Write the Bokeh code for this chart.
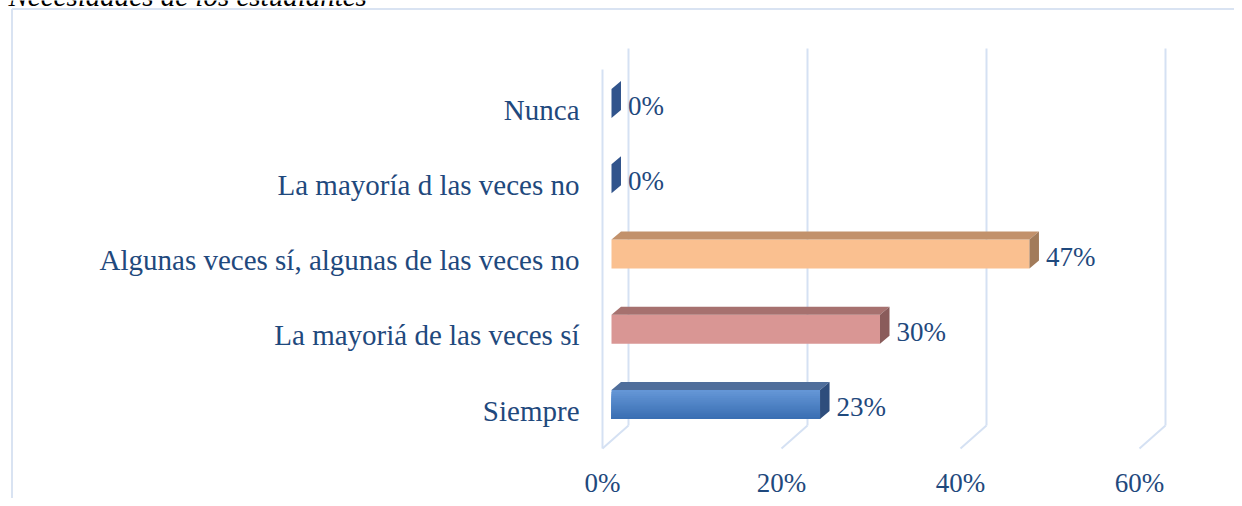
from bokeh.plotting import figure
from bokeh.models import Range1d
from bokeh.core.properties import value
from bokeh.embed import file_html
from bokeh.resources import INLINE

# ---------------- data ----------------
title = "Necesidades de los estudiantes"
categories = ["Siempre",
              "La mayoriá de las veces sí",
              "Algunas veces sí, algunas de las veces no",
              "La mayoría d las veces no",
              "Nunca"]
percentages = [23.3, 30.0, 46.7, 0.0, 0.0]
value_labels = ["23%", "30%", "47%", "0%", "0%"]
x_ticks = [0, 20, 40, 60]
x_tick_labels = ["0%", "20%", "40%", "60%"]

front_colors = ["#4a80c4", "#d99694", "#fac090", "#34599a", "#34599a"]
top_colors = ["#4f6e9b", "#a6716f", "#c2916b", "#2f5289", "#2f5289"]
side_colors = ["#2e4d7c", "#8a5c5b", "#a27b5a", "#31548c", "#31548c"]
blue_grad = ("#6496d6", "#3a6fb3")

TEXT = "#1f497d"
GRID = "#d5e1f3"
FONT = value("Liberation Serif")

# ---------------- layout helpers ----------------
W, H = 1234, 498
PX_X = 8.95     # pixels per percent
PX_Y = 75.25    # pixels per category step
X0 = 602        # x pixel of 0% on the front floor edge
Y0 = 404        # y pixel of first category centre


def X(px):
    return (px - X0) / PX_X


def Y(py):
    return (Y0 - py) / PX_Y


DEPTH_X = 26 / PX_X      # back wall shift
FACE_DX = 9 / PX_X       # bar front face shift from front plane
DDX = 9.5 / PX_X         # bar depth
DDY = 8 / PX_Y
HALF = 14.5 / PX_Y

p = figure(width=W, height=H,
           x_range=Range1d(X(0), X(W)),
           y_range=Range1d(Y(H), Y(0)),
           output_backend="svg", toolbar_location=None,
           x_axis_location=None, y_axis_location=None,
           min_border=0)
p.grid.visible = False
p.outline_line_color = None
p.background_fill_color = "white"
p.border_fill_color = "white"

# caption cut at the top edge (as in the source image)
p.text(x=[X(8)], y=[Y(-4.5)], text=[title], text_align="left",
       text_baseline="middle", text_font=FONT, text_font_style="italic",
       text_font_size="29px", text_color="#000000")

# chart border (top and left visible)
p.segment(x0=[X(11.5), X(11.5)], y0=[Y(8.5), Y(8.5)],
          x1=[X(W), X(11.5)], y1=[Y(8.5), Y(H)],
          line_color="#d9e3f2", line_width=2)

# gridlines: back wall verticals + floor diagonals
bx = [t + DEPTH_X for t in x_ticks]
p.segment(x0=bx, y0=[Y(48)] * len(bx), x1=bx, y1=[Y(425)] * len(bx),
          line_color=GRID, line_width=2)
p.segment(x0=bx, y0=[Y(425)] * len(bx), x1=x_ticks, y1=[Y(448)] * len(bx),
          line_color=GRID, line_width=2)
# left wall front edge
p.segment(x0=[0], y0=[Y(69)], x1=[0], y1=[Y(448)], line_color=GRID, line_width=2)

# ---------------- bars ----------------
n = len(categories)
idx = list(range(n))
lefts = [FACE_DX] * n
rights = [FACE_DX + v for v in percentages]
bottoms = [i - HALF for i in idx]
tops = [i + HALF for i in idx]


def mix(c1, c2, t):
    a = [int(c1[k:k + 2], 16) for k in (1, 3, 5)]
    b = [int(c2[k:k + 2], 16) for k in (1, 3, 5)]
    return "#%02x%02x%02x" % tuple(round(a[j] + (b[j] - a[j]) * t) for j in range(3))


# front faces (blue one with a vertical gradient, strips overlap downwards)
for i in idx:
    if percentages[i] <= 0:
        continue
    if i == 0:
        steps = 14
        h = (tops[i] - bottoms[i]) / steps
        p.quad(left=[lefts[i]] * steps, right=[rights[i]] * steps,
               top=[tops[i] - k * h for k in range(steps)],
               bottom=[bottoms[i]] * steps,
               fill_color=[mix(blue_grad[0], blue_grad[1], k / (steps - 1)) for k in range(steps)],
               line_color=None)
    else:
        p.quad(left=[lefts[i]], right=[rights[i]], top=[tops[i]], bottom=[bottoms[i]],
               fill_color=front_colors[i], line_color=None)

# top faces
p.patches(xs=[[lefts[i], rights[i], rights[i] + DDX, lefts[i] + DDX] for i in idx],
          ys=[[tops[i], tops[i], tops[i] + DDY, tops[i] + DDY] for i in idx],
          fill_color=top_colors, line_color=None)
# side faces
p.patches(xs=[[rights[i], rights[i], rights[i] + DDX, rights[i] + DDX] for i in idx],
          ys=[[bottoms[i], tops[i], tops[i] + DDY, bottoms[i] + DDY] for i in idx],
          fill_color=side_colors, line_color=None)

# ---------------- texts ----------------
p.text(x=[X(579)] * n, y=idx, text=categories, y_offset=6,
       text_align="right", text_baseline="middle",
       text_font=FONT, text_font_size="29px", text_color=TEXT)

p.text(x=rights, y=idx, text=value_labels, x_offset=16.5, y_offset=2.5,
       text_align="left", text_baseline="middle",
       text_font=FONT, text_font_size="27px", text_color=TEXT)

p.text(x=x_ticks, y=[Y(482)] * len(x_ticks), text=x_tick_labels,
       text_align="center", text_baseline="middle",
       text_font=FONT, text_font_size="27px", text_color=TEXT)

open("out.html", "w").write(file_html(p, INLINE))
